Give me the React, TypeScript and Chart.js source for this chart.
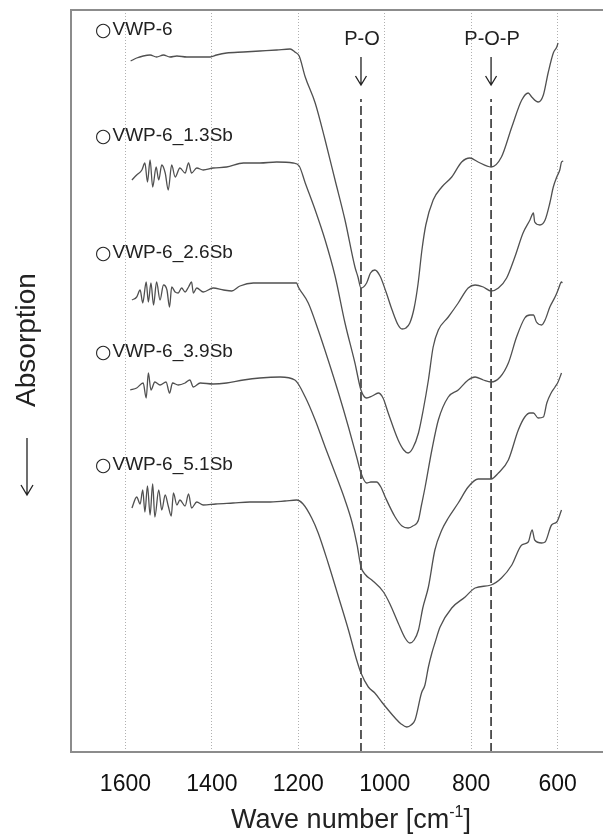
import React, { useEffect, useRef } from 'react';
import { Chart, registerables } from 'chart.js';

Chart.register(...registerables);

const FONT = '"Liberation Sans", Arial, Helvetica, sans-serif';

// ---- axis / annotation data ----
const xTickValues = [1600, 1400, 1200, 1000, 800, 600];
const xMin = 495;
const xMax = 1726;
const yMin = 0;
const yMax = 74.2;

const seriesNames = ['VWP-6', 'VWP-6_1.3Sb', 'VWP-6_2.6Sb', 'VWP-6_3.9Sb', 'VWP-6_5.1Sb'];
const seriesLabelWn = 1666;
const seriesLabelLevels = [72.2, 61.6, 49.9, 40.0, 28.7];

const bandWavenumbers = [1055, 754];
const bandNames = ['P-O', 'P-O-P'];
const bandLineTop = 65.3;
const bandTextLevel = 71.3;
const bandArrowTop = 69.5;
const bandArrowTip = 66.7;

// ---- spectra (wave number, offset absorption in arbitrary units) ----
const wn1 = [1588, 1574, 1559, 1543, 1528, 1512, 1497, 1481, 1458, 1427, 1404, 1389, 1366, 1327, 1289, 1250, 1219, 1208, 1198, 1184, 1161, 1138, 1115, 1092, 1069, 1062, 1055, 1042, 1033, 1023, 1011, 997, 983, 969, 960, 951, 942, 932, 923, 914, 905, 888, 868, 845, 822, 803, 784, 754, 730, 706, 683, 668, 660, 645, 633, 622, 610, 602, 599];
const abs1 = [69.1, 69.4, 69.6, 69.7, 69.5, 69.7, 69.5, 69.6, 69.5, 69.5, 69.5, 69.7, 69.9, 70.0, 70.1, 70.2, 70.3, 70.0, 69.6, 67.5, 64.9, 61.2, 57.2, 53.2, 48.5, 47.5, 46.4, 46.9, 47.9, 48.2, 47.6, 46.0, 44.2, 42.7, 42.3, 42.4, 42.9, 44.4, 46.8, 50.2, 52.7, 55.2, 56.5, 57.5, 59.0, 59.4, 59.0, 58.5, 59.5, 62.5, 65.2, 65.9, 65.5, 65.0, 65.7, 67.9, 69.9, 70.5, 70.9];

const wn2 = [1585, 1574, 1562, 1555, 1549, 1543, 1537, 1529, 1523, 1516, 1508, 1501, 1493, 1485, 1474, 1462, 1454, 1447, 1435, 1420, 1397, 1366, 1327, 1289, 1250, 1212, 1198, 1184, 1161, 1138, 1115, 1092, 1069, 1055, 1042, 1029, 1015, 1004, 992, 969, 956, 946, 935, 922, 911, 899, 888, 876, 853, 830, 807, 791, 772, 754, 737, 718, 699, 680, 664, 656, 653, 641, 629, 618, 610, 602, 595, 591, 587];
const abs2 = [57.2, 57.7, 58.2, 58.9, 57.0, 59.2, 56.5, 58.5, 57.2, 58.7, 57.9, 56.2, 58.7, 57.5, 58.4, 57.9, 58.9, 57.9, 58.4, 58.2, 58.4, 58.5, 58.9, 58.9, 59.0, 58.9, 58.6, 56.9, 54.2, 51.2, 47.6, 42.9, 38.9, 36.2, 35.4, 35.6, 35.9, 35.4, 33.9, 31.2, 30.2, 29.9, 30.4, 31.9, 34.2, 37.2, 40.5, 42.2, 43.5, 44.9, 46.4, 46.7, 46.5, 46.1, 46.4, 47.4, 49.5, 51.9, 53.2, 53.9, 53.0, 52.7, 53.2, 54.9, 56.5, 57.5, 58.2, 59.0, 59.1];

const wn3 = [1585, 1574, 1566, 1560, 1552, 1547, 1541, 1535, 1528, 1520, 1512, 1504, 1498, 1493, 1485, 1478, 1470, 1462, 1454, 1447, 1443, 1435, 1420, 1397, 1373, 1354, 1335, 1304, 1273, 1242, 1204, 1200, 1177, 1154, 1131, 1107, 1084, 1065, 1055, 1042, 1032, 1019, 1009, 999, 976, 960, 946, 935, 922, 915, 907, 891, 876, 853, 830, 807, 791, 772, 754, 733, 714, 695, 676, 664, 656, 649, 637, 629, 618, 606, 599, 591, 589];
const abs3 = [45.2, 45.5, 46.2, 44.9, 47.0, 45.0, 46.9, 44.7, 47.0, 45.2, 46.7, 46.2, 44.5, 46.5, 46.0, 45.9, 46.4, 46.0, 46.5, 47.0, 45.9, 46.4, 46.0, 46.4, 46.2, 46.1, 46.6, 46.9, 46.9, 46.9, 46.9, 46.5, 44.9, 42.2, 39.2, 35.9, 32.5, 29.5, 27.9, 26.9, 27.0, 27.0, 26.5, 25.5, 23.5, 22.6, 22.4, 22.6, 23.2, 24.7, 26.4, 30.2, 33.2, 35.5, 36.2, 37.2, 37.5, 37.2, 37.0, 37.5, 38.9, 41.5, 43.4, 43.7, 43.7, 43.0, 42.7, 43.2, 44.5, 45.5, 46.2, 47.0, 46.9];

const wn4 = [1589, 1574, 1559, 1552, 1547, 1541, 1532, 1520, 1506, 1498, 1491, 1478, 1462, 1451, 1443, 1427, 1397, 1366, 1327, 1289, 1242, 1208, 1184, 1161, 1138, 1115, 1092, 1076, 1064, 1055, 1044, 1030, 1003, 988, 969, 953, 942, 932, 922, 912, 899, 884, 868, 853, 830, 807, 784, 754, 737, 714, 691, 676, 664, 656, 645, 633, 625, 615, 606, 599, 591];
const abs4 = [36.2, 36.4, 36.9, 35.4, 37.9, 36.2, 37.0, 36.7, 37.0, 35.9, 36.9, 36.7, 36.9, 37.2, 36.5, 36.9, 36.8, 36.9, 37.2, 37.4, 37.5, 37.2, 35.5, 33.2, 30.5, 27.9, 25.2, 23.0, 20.7, 18.5, 17.7, 17.2, 16.0, 14.8, 12.9, 11.4, 10.9, 11.2, 12.2, 14.4, 16.5, 20.2, 22.2, 23.4, 24.9, 26.5, 27.3, 27.3, 27.9, 29.2, 32.2, 33.5, 33.9, 33.9, 33.4, 33.5, 34.9, 35.9, 36.5, 37.0, 37.9];

const wn5 = [1585, 1574, 1566, 1560, 1555, 1549, 1543, 1537, 1532, 1523, 1516, 1508, 1501, 1494, 1489, 1481, 1474, 1462, 1454, 1447, 1435, 1420, 1391, 1351, 1312, 1271, 1231, 1204, 1189, 1169, 1154, 1131, 1107, 1084, 1065, 1055, 1038, 1023, 1007, 990, 976, 962, 949, 939, 930, 915, 907, 899, 891, 884, 872, 845, 814, 791, 754, 730, 706, 683, 668, 659, 653, 637, 629, 614, 602, 591];
const abs5 = [24.4, 25.5, 24.8, 26.2, 24.0, 26.6, 23.7, 26.8, 23.5, 26.2, 24.2, 25.7, 24.6, 23.6, 25.9, 24.7, 25.2, 24.6, 25.8, 24.4, 25.0, 24.7, 24.8, 24.9, 25.0, 25.0, 25.1, 25.2, 24.8, 23.4, 21.9, 18.9, 15.5, 12.2, 9.2, 7.9, 6.5, 5.9, 5.0, 4.1, 3.4, 2.8, 2.5, 2.7, 3.2, 5.9, 6.7, 8.5, 9.9, 10.9, 12.5, 14.4, 15.5, 16.4, 16.7, 17.4, 18.7, 20.7, 21.0, 22.2, 21.2, 20.9, 21.0, 22.7, 23.0, 24.2];

const decorPlugin = {
  id: 'decor',
  afterDatasetsDraw(chart: any) {
    const { ctx, chartArea: ca, scales } = chart;
    const x = scales.x;
    const y = scales.y;
    ctx.save();

    // frame (left, top, bottom; right side runs off the picture)
    ctx.strokeStyle = '#8c8c8c';
    ctx.lineWidth = 2;
    ctx.setLineDash([]);
    ctx.beginPath();
    ctx.moveTo(chart.width, ca.top);
    ctx.lineTo(ca.left, ca.top);
    ctx.lineTo(ca.left, ca.bottom);
    ctx.lineTo(chart.width, ca.bottom);
    ctx.stroke();

    // series labels: open circle marker + name
    ctx.fillStyle = '#222';
    ctx.textAlign = 'left';
    ctx.textBaseline = 'middle';
    const lx = x.getPixelForValue(seriesLabelWn);
    seriesNames.forEach((n, i) => {
      const ly = y.getPixelForValue(seriesLabelLevels[i]);
      ctx.font = '19px "DejaVu Sans", sans-serif';
      ctx.fillText('\u25CB', lx - 2, ly + 1);
      const cw = ctx.measureText('\u25CB').width;
      ctx.font = `19px ${FONT}`;
      ctx.fillText(n, lx - 2 + cw + 1, ly);
    });

    // band labels with arrows
    ctx.font = `20px ${FONT}`;
    ctx.textAlign = 'center';
    ctx.strokeStyle = '#222';
    ctx.lineWidth = 1.3;
    bandWavenumbers.forEach((b, i) => {
      const bx = x.getPixelForValue(b);
      ctx.fillText(bandNames[i], bx + 1, y.getPixelForValue(bandTextLevel));
      const y0 = y.getPixelForValue(bandArrowTop);
      const y1 = y.getPixelForValue(bandArrowTip);
      ctx.beginPath();
      ctx.moveTo(bx, y0);
      ctx.lineTo(bx, y1);
      ctx.moveTo(bx - 5.5, y1 - 9);
      ctx.lineTo(bx, y1);
      ctx.lineTo(bx + 5.5, y1 - 9);
      ctx.stroke();
    });

    // y axis title: "Absorption" with a downward arrow below it
    const cy = (ca.top + ca.bottom) / 2;
    const tx = 27;
    ctx.save();
    ctx.translate(tx, cy - 41);
    ctx.rotate(-Math.PI / 2);
    ctx.font = `28px ${FONT}`;
    ctx.textAlign = 'center';
    ctx.textBaseline = 'middle';
    ctx.fillText('Absorption', 0, 0);
    ctx.restore();
    ctx.beginPath();
    ctx.lineWidth = 1.3;
    ctx.moveTo(tx, cy + 57);
    ctx.lineTo(tx, cy + 114);
    ctx.moveTo(tx - 6, cy + 104);
    ctx.lineTo(tx, cy + 114);
    ctx.lineTo(tx + 6, cy + 104);
    ctx.stroke();

    // x axis title with superscript
    const main = 'Wave number [cm';
    const sup = '-1';
    const end = ']';
    ctx.textAlign = 'left';
    ctx.textBaseline = 'alphabetic';
    ctx.font = `27px ${FONT}`;
    const wMain = ctx.measureText(main).width;
    const wEnd = ctx.measureText(end).width;
    ctx.font = `16px ${FONT}`;
    const wSup = ctx.measureText(sup).width;
    const total = wMain + wSup + wEnd;
    const cx = 351;
    const base = chart.height - 7;
    let px = cx - total / 2;
    ctx.font = `27px ${FONT}`;
    ctx.fillText(main, px, base);
    px += wMain;
    ctx.font = `16px ${FONT}`;
    ctx.fillText(sup, px, base - 11);
    px += wSup;
    ctx.font = `27px ${FONT}`;
    ctx.fillText(end, px, base);

    ctx.restore();
  },
};

export default function App() {
  const ref = useRef<HTMLCanvasElement>(null);

  useEffect(() => {
    const canvas = ref.current;
    if (!canvas) return;
    const series: [number[], number[]][] = [
      [wn1, abs1],
      [wn2, abs2],
      [wn3, abs3],
      [wn4, abs4],
      [wn5, abs5],
    ];
    const datasets: any[] = series.map(([w, a], i) => ({
      label: seriesNames[i],
      data: w.map((xv, j) => ({ x: xv, y: a[j] })),
      borderColor: '#505050',
      borderWidth: 1.3,
      pointRadius: 0,
      cubicInterpolationMode: 'monotone',
      fill: false,
    }));
    bandWavenumbers.forEach((b, i) => {
      datasets.push({
        label: bandNames[i],
        data: [
          { x: b, y: yMin },
          { x: b, y: bandLineTop },
        ],
        borderColor: '#333',
        borderWidth: 1.6,
        borderDash: [9, 4],
        pointRadius: 0,
        tension: 0,
        fill: false,
      });
    });

    const chart = new Chart(canvas, {
      type: 'line',
      data: { datasets },
      options: {
        animation: false,
        responsive: false,
        maintainAspectRatio: false,
        layout: { padding: { left: 0, right: 0, top: 10, bottom: 0 } },
        plugins: {
          legend: { display: false },
          tooltip: { enabled: false },
          title: { display: false },
        },
        scales: {
          x: {
            type: 'linear',
            reverse: true,
            min: xMin,
            max: xMax,
            afterBuildTicks: (s: any) => {
              s.ticks = xTickValues.map((v) => ({ value: v }));
            },
            afterFit: (s: any) => {
              s.height = 83;
            },
            grid: { display: true, drawTicks: false, color: '#b0b0b0', lineWidth: 1 },
            border: { display: false, dash: [1, 2] },
            ticks: {
              padding: 19,
              color: '#111',
              font: { family: FONT, size: 23 },
              maxRotation: 0,
              autoSkip: false,
              callback: (v: any) => String(v),
            },
          },
          y: {
            type: 'linear',
            min: yMin,
            max: yMax,
            afterFit: (s: any) => {
              s.width = 71;
            },
            grid: { display: false },
            border: { display: false },
            ticks: { display: false },
          },
        },
      } as any,
      plugins: [decorPlugin],
    });
    return () => chart.destroy();
  }, []);

  return (
    <div style={{ position: 'absolute', left: 0, top: 0, width: 603, height: 835, background: '#fff' }}>
      <canvas ref={ref} width={603} height={835} style={{ display: 'block' }} />
    </div>
  );
}
